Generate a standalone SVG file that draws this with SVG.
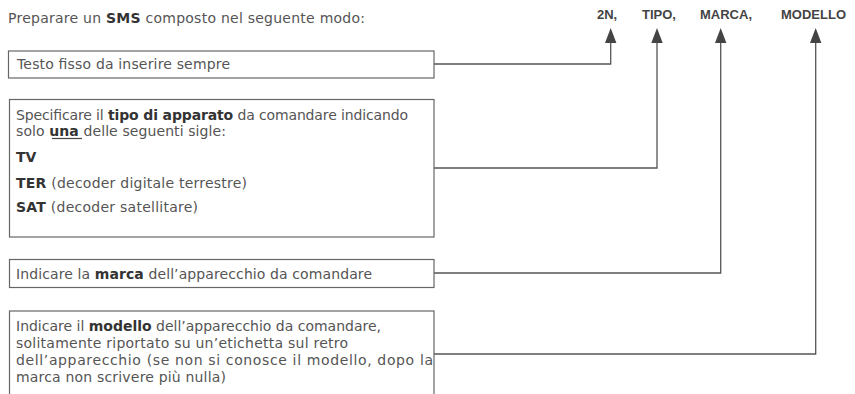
<svg xmlns="http://www.w3.org/2000/svg" width="855" height="394" viewBox="0 0 855 394">
<style>
  .t { font-family: "DejaVu Sans", "Open Sans", sans-serif; font-size: 14px; fill: #555; }
  .b { font-weight: bold; fill: #333; }
  .h { font-family: "Liberation Sans", "Open Sans", sans-serif; font-size: 13px; font-weight: bold; fill: #444; }
  .box { fill: #fff; stroke: #666; stroke-width: 1.2; }
  .c { fill: none; stroke: #555; stroke-width: 1.3; }
  .ah { fill: #444; }
</style>
<rect width="855" height="394" fill="#fff"/>
<g id="header">
  <text class="t" x="8" y="23" textLength="357" lengthAdjust="spacing">Preparare un <tspan class="b">SMS</tspan> composto nel seguente modo:</text>
</g>
<g id="labels">
  <text class="h" x="597" y="19">2N,</text>
  <text class="h" x="642" y="19">TIPO,</text>
  <text class="h" x="700" y="19">MARCA,</text>
  <text class="h" x="781" y="19">MODELLO</text>
</g>
<g id="connectors">
  <path class="c" d="M434,64 H610.7 V43" />
  <path class="c" d="M434,168 H657 V43" />
  <path class="c" d="M434,273 H720.7 V43" />
  <path class="c" d="M434,354 H815.7 V43" />
  <path class="ah" d="M605,43 L610.7,28 L616.4,43 Z"/>
  <path class="ah" d="M651.3,43 L657,28 L662.7,43 Z"/>
  <path class="ah" d="M715,43 L720.7,28 L726.4,43 Z"/>
  <path class="ah" d="M810,43 L815.7,28 L821.4,43 Z"/>
</g>
<g id="box1">
  <rect class="box" x="8.5" y="51" width="425.5" height="27"/>
  <text class="t" x="17" y="69" textLength="213" lengthAdjust="spacing">Testo fisso da inserire sempre</text>
</g>
<g id="box2">
  <rect class="box" x="9.5" y="99.5" width="424.5" height="137.5"/>
  <text class="t" x="16" y="120" textLength="392" lengthAdjust="spacing">Specificare il <tspan class="b">tipo di apparato</tspan> da comandare indicando</text>
  <text class="t" x="16" y="136" textLength="210" lengthAdjust="spacing">solo <tspan class="b">una</tspan> delle seguenti sigle:</text>
  <line x1="52" y1="138.5" x2="82" y2="138.5" stroke="#444" stroke-width="1.2"/>
  <text class="t" x="16" y="162"><tspan class="b">TV</tspan></text>
  <text class="t" x="16" y="188" textLength="231" lengthAdjust="spacing"><tspan class="b">TER</tspan> (decoder digitale terrestre)</text>
  <text class="t" x="16" y="212" textLength="182" lengthAdjust="spacing"><tspan class="b">SAT</tspan> (decoder satellitare)</text>
</g>
<g id="box3">
  <rect class="box" x="9.5" y="259.5" width="424.5" height="28"/>
  <text class="t" x="16" y="279" textLength="356" lengthAdjust="spacing">Indicare la <tspan class="b">marca</tspan> dell’apparecchio da comandare</text>
</g>
<g id="box4">
  <rect class="box" x="9.5" y="311" width="424.5" height="100"/>
  <text class="t" x="16" y="331" textLength="365" lengthAdjust="spacing">Indicare il <tspan class="b">modello</tspan> dell’apparecchio da comandare,</text>
  <text class="t" x="16" y="348" textLength="332" lengthAdjust="spacing">solitamente riportato su un’etichetta sul retro</text>
  <text class="t" x="16" y="365" textLength="417" lengthAdjust="spacing">dell’apparecchio (se non si conosce il modello, dopo la</text>
  <text class="t" x="16" y="382" textLength="210" lengthAdjust="spacing">marca non scrivere più nulla)</text>
</g>
</svg>
